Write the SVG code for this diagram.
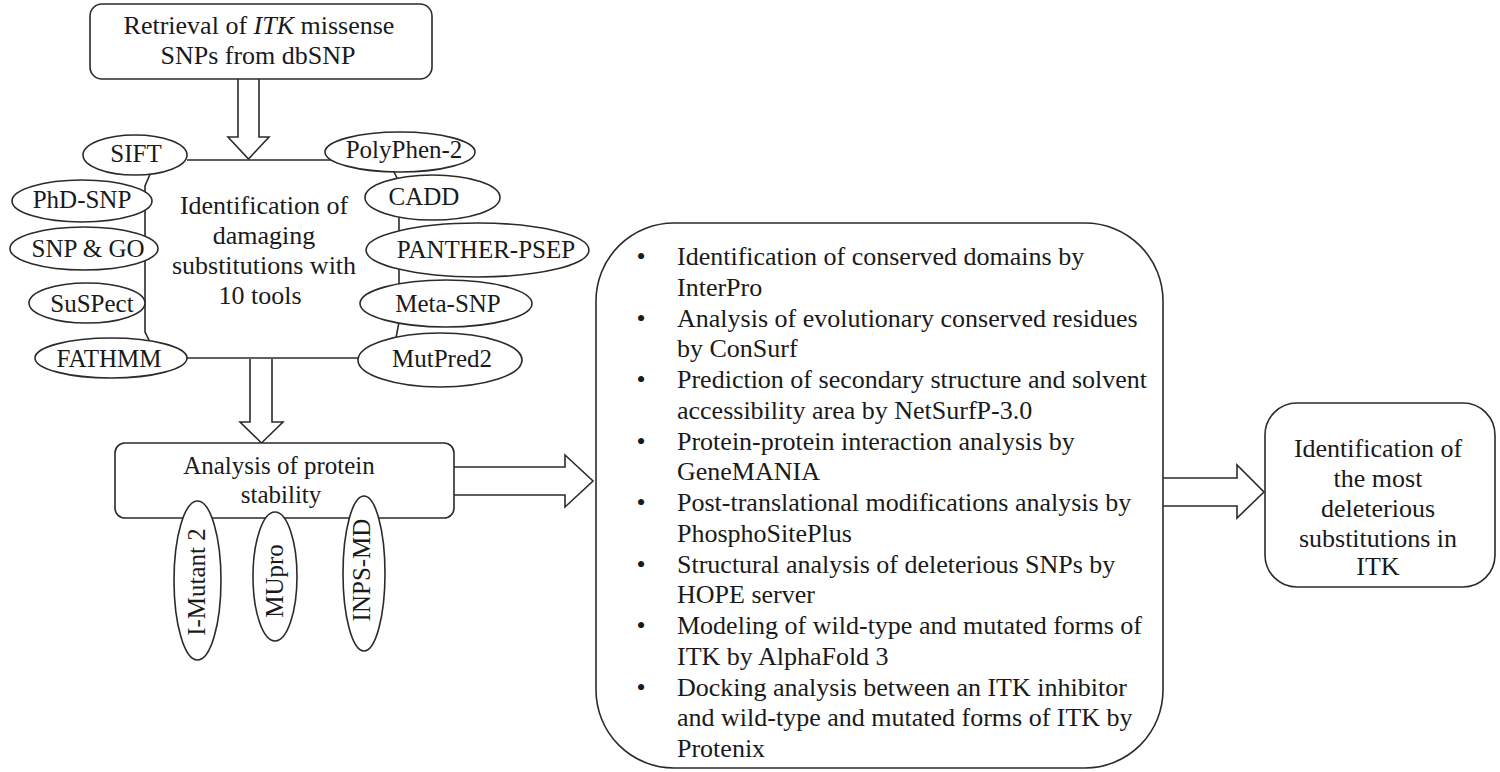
<svg xmlns="http://www.w3.org/2000/svg" width="1500" height="772" viewBox="0 0 1500 772">
<style>
  .bg { fill: #ffffff; }
  .shape { fill: #ffffff; stroke: #2b2b2b; stroke-width: 1.6; }
  .line { fill: none; stroke: #2b2b2b; stroke-width: 1.6; }
  .t { font-family: "Liberation Serif", "Times New Roman", serif; fill: #1a1a1a; }
  .c { text-anchor: middle; }
  .s25 { font-size: 25px; }
  .s26 { font-size: 26px; }
</style>
<rect class="bg" x="0" y="0" width="1500" height="772"/>

<g id="connectors">
  <line class="line" x1="187" y1="160" x2="336" y2="160"/>
  <line class="line" x1="187" y1="358" x2="358" y2="358"/>
  <path class="line" d="M151,172 L145,186 V332 L150,342"/>
  <path class="line" d="M392,168 L399,182 V322 L396,338"/>
  <path class="shape" d="M238,79 V137 H228 L248.5,159 L269,137 H259 V79"/>
  <path class="shape" d="M250,359 V422 H240 L261.5,443 L283,422 H272 V359"/>
  <path class="shape" d="M454,467 H565 V455 L593,481 L565,507 V495 H454"/>
  <path class="shape" d="M1163,478 H1237 V465 L1264,492 L1237,518 V506 H1163"/>
</g>

<g id="retrieval">
  <rect class="shape" x="90" y="4" width="342" height="75" rx="12"/>
  <text class="t c s26" x="259" y="34">Retrieval of <tspan font-style="italic">ITK</tspan> missense</text>
  <text class="t c s26" x="258" y="64">SNPs from dbSNP</text>
</g>

<g id="identification">
  <text class="t c s26" x="264" y="214">Identification of</text>
  <text class="t c s26" x="264" y="244">damaging</text>
  <text class="t c s26" x="264" y="274">substitutions with</text>
  <text class="t c s26" x="260" y="304">10 tools</text>
</g>

<g id="sift"><ellipse class="shape" cx="135" cy="155" rx="52" ry="20"/><text class="t c s25" x="136" y="162">SIFT</text></g>
<g id="polyphen"><ellipse class="shape" cx="400" cy="152" rx="75" ry="20"/><text class="t c s25" x="404" y="158">PolyPhen-2</text></g>
<g id="phdsnp"><ellipse class="shape" cx="82" cy="201" rx="70" ry="21"/><text class="t c s25" x="82" y="208">PhD-SNP</text></g>
<g id="snpgo"><ellipse class="shape" cx="84" cy="248.5" rx="74" ry="21.5"/><text class="t c s25" x="88" y="257">SNP &amp; GO</text></g>
<g id="suspect"><ellipse class="shape" cx="87" cy="303" rx="58" ry="20"/><text class="t c s25" x="92" y="312">SuSPect</text></g>
<g id="fathmm"><ellipse class="shape" cx="111" cy="358" rx="76" ry="20"/><text class="t c s25" x="109" y="367">FATHMM</text></g>
<g id="cadd"><ellipse class="shape" cx="432.5" cy="197.5" rx="67.5" ry="22.5"/><text class="t c s25" x="424" y="205">CADD</text></g>
<g id="panther"><ellipse class="shape" cx="477.5" cy="250" rx="111.5" ry="27"/><text class="t c s25" x="486" y="258">PANTHER-PSEP</text></g>
<g id="metasnp"><ellipse class="shape" cx="446" cy="303.5" rx="86" ry="23.5"/><text class="t c s25" x="448" y="312">Meta-SNP</text></g>
<g id="mutpred"><ellipse class="shape" cx="440" cy="360" rx="82" ry="27"/><text class="t c s25" x="442" y="367">MutPred2</text></g>

<g id="stability">
  <rect class="shape" x="115" y="443" width="339" height="75" rx="10"/>
  <text class="t c s25" x="279" y="474">Analysis of protein</text>
  <text class="t c s25" x="281" y="503">stability</text>
</g>

<g id="imutant"><ellipse class="shape" cx="197.5" cy="580.5" rx="23.5" ry="79.5"/><text class="t c s25" transform="translate(197.5,582) rotate(-90)" x="0" y="7">I-Mutant 2</text></g>
<g id="mupro"><ellipse class="shape" cx="275" cy="576.5" rx="22" ry="64.5"/><text class="t c s25" transform="translate(275,581) rotate(-90)" x="0" y="8">MUpro</text></g>
<g id="inpsmd"><ellipse class="shape" cx="364" cy="573.5" rx="21" ry="77.5"/><text class="t c s25" transform="translate(363,570) rotate(-90)" x="0" y="7">INPS-MD</text></g>

<g id="analyses">
  <rect class="shape" x="596" y="223" width="567" height="545" rx="78"/>
  <g class="t s26">
    <text x="641" y="265" class="c">•</text>
    <text x="677" y="265">Identification of conserved domains by</text>
    <text x="677" y="295.75">InterPro</text>
    <text x="641" y="326.5" class="c">•</text>
    <text x="677" y="326.5">Analysis of evolutionary conserved residues</text>
    <text x="677" y="357.25">by ConSurf</text>
    <text x="641" y="388" class="c">•</text>
    <text x="677" y="388">Prediction of secondary structure and solvent</text>
    <text x="677" y="418.75">accessibility area by NetSurfP-3.0</text>
    <text x="641" y="449.5" class="c">•</text>
    <text x="677" y="449.5">Protein-protein interaction analysis by</text>
    <text x="677" y="480.25">GeneMANIA</text>
    <text x="641" y="511" class="c">•</text>
    <text x="677" y="511">Post-translational modifications analysis by</text>
    <text x="677" y="541.75">PhosphoSitePlus</text>
    <text x="641" y="572.5" class="c">•</text>
    <text x="677" y="572.5">Structural analysis of deleterious SNPs by</text>
    <text x="677" y="603.25">HOPE server</text>
    <text x="641" y="634" class="c">•</text>
    <text x="677" y="634">Modeling of wild-type and mutated forms of</text>
    <text x="677" y="664.75">ITK by AlphaFold 3</text>
    <text x="641" y="695.5" class="c">•</text>
    <text x="677" y="695.5">Docking analysis between an ITK inhibitor</text>
    <text x="677" y="726.25">and wild-type and mutated forms of ITK by</text>
    <text x="677" y="757">Protenix</text>
  </g>
</g>

<g id="result">
  <rect class="shape" x="1265" y="403" width="230" height="184" rx="32"/>
  <text class="t c s26" x="1378" y="457">Identification of</text>
  <text class="t c s26" x="1378" y="487">the most</text>
  <text class="t c s26" x="1378" y="517">deleterious</text>
  <text class="t c s26" x="1378" y="547">substitutions in</text>
  <text class="t c s26" x="1378" y="575">ITK</text>
</g>
</svg>
